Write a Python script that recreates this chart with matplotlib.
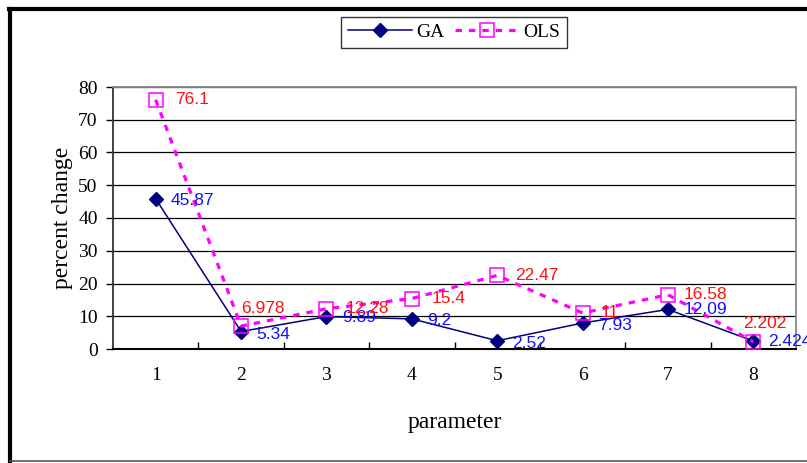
import matplotlib
matplotlib.use("Agg")
import matplotlib.pyplot as plt
from matplotlib.lines import Line2D

params = [1, 2, 3, 4, 5, 6, 7, 8]
ga = [45.87, 5.34, 9.89, 9.2, 2.52, 7.93, 12.09, 2.424]
ols = [76.1, 6.978, 12.28, 15.4, 22.47, 11, 16.58, 2.202]
ga_text = ["45.87", "5.34", "9.89", "9.2", "2.52", "7.93", "12.09", "2.424"]
ols_text = ["76.1", "6.978", "12.28", "15.4", "22.47", "11", "16.58", "2.202"]
y_ticks = [0, 10, 20, 30, 40, 50, 60, 70, 80]

# label offsets in points (excel put some labels above the point)
ols_off = [(14, 0), (0, 13), (14, 0), (14, 0), (13, 0), (13, 0), (11, 0), (-7, 13)]
ga_off = [(11, -1), (11, -2), (11, -1), (11, -1), (11, -2), (11, -2), (11, 0), (11, 0)]

serif = "Liberation Serif"
sans = "Liberation Sans"

fig = plt.figure(figsize=(8.07, 4.63), dpi=100)
ax = fig.add_axes([113/807, 1-349/463, 683/807, 262/463])

ax.plot(params, ga, color="#000080", lw=1.1, marker="D", ms=7,
        mfc="#000080", mec="#000080", zorder=3)
ax.plot(params, ols, color="#FF00FF", lw=2.3, dashes=(2, 2.2), marker="s",
        ms=10, mfc="none", mec="#FF00FF", mew=1.1, zorder=4)

for x, v, t, o in zip(params, ga, ga_text, ga_off):
    ax.annotate(t, (x, v), xytext=o, textcoords="offset points", ha="left",
                va="center", color="#1010FF", fontsize=12.5, family=sans,
                annotation_clip=False, zorder=5)
for x, v, t, o in zip(params, ols, ols_text, ols_off):
    ax.annotate(t, (x, v), xytext=o, textcoords="offset points", ha="left",
                va="center", color="#FF1010", fontsize=12.5, family=sans,
                annotation_clip=False, zorder=5)

ax.set_xlim(0.5, 8.5)
ax.set_ylim(0, 80)
ax.set_yticks(y_ticks)
ax.set_xticks(params)
ax.set_xticks([1.5, 2.5, 3.5, 4.5, 5.5, 6.5, 7.5], minor=True)
ax.tick_params(axis="x", which="major", length=0, pad=13)
ax.tick_params(axis="x", which="minor", direction="in", length=5, width=1)
ax.tick_params(axis="y", direction="out", length=5, width=1, pad=6)
for lab in ax.get_xticklabels() + ax.get_yticklabels():
    lab.set_family(serif)
    lab.set_fontsize(14)

ax.yaxis.grid(True, color="black", lw=0.9)
ax.set_axisbelow(True)
ax.spines["left"].set_color("#333333")
ax.spines["left"].set_linewidth(1.3)
ax.spines["bottom"].set_color("black")
ax.spines["bottom"].set_linewidth(1.5)
ax.spines["top"].set_color("#888888")
ax.spines["right"].set_color("#888888")
ax.spines["top"].set_linewidth(1.3)
ax.spines["right"].set_linewidth(1.3)

ax.set_ylabel("percent change", family=serif, fontsize=17, labelpad=4)
ax.set_xlabel("parameter", family=serif, fontsize=17, labelpad=20)

handles = [
    Line2D([], [], color="#000080", lw=1.1, marker="D", ms=7),
    Line2D([], [], color="#FF00FF", lw=2.3, dashes=(2, 2.2), marker="s",
           ms=10, mfc="none", mew=1.1),
]
leg = fig.legend(handles, ["GA", "OLS"], loc="center",
                 bbox_to_anchor=(454/807, 1-32.5/463), ncol=2,
                 prop={"family": serif, "size": 14}, frameon=True,
                 fancybox=False, edgecolor="black", handlelength=3.3,
                 columnspacing=0.5, handletextpad=0.25, borderpad=0.35,
                 borderaxespad=0.3)
leg.get_frame().set_linewidth(1.0)

# outer border of the chart
fig.add_artist(Line2D([10/807, 10/807], [1-9/463, 1-461/463], color="black",
                      lw=3, transform=fig.transFigure))
fig.add_artist(Line2D([9/807, 1], [1-9/463, 1-9/463], color="black",
                      lw=3, transform=fig.transFigure))
fig.add_artist(Line2D([10/807, 1], [1-461/463, 1-461/463], color="#555555",
                      lw=1.2, transform=fig.transFigure))

fig.savefig("out.png", dpi=100)
